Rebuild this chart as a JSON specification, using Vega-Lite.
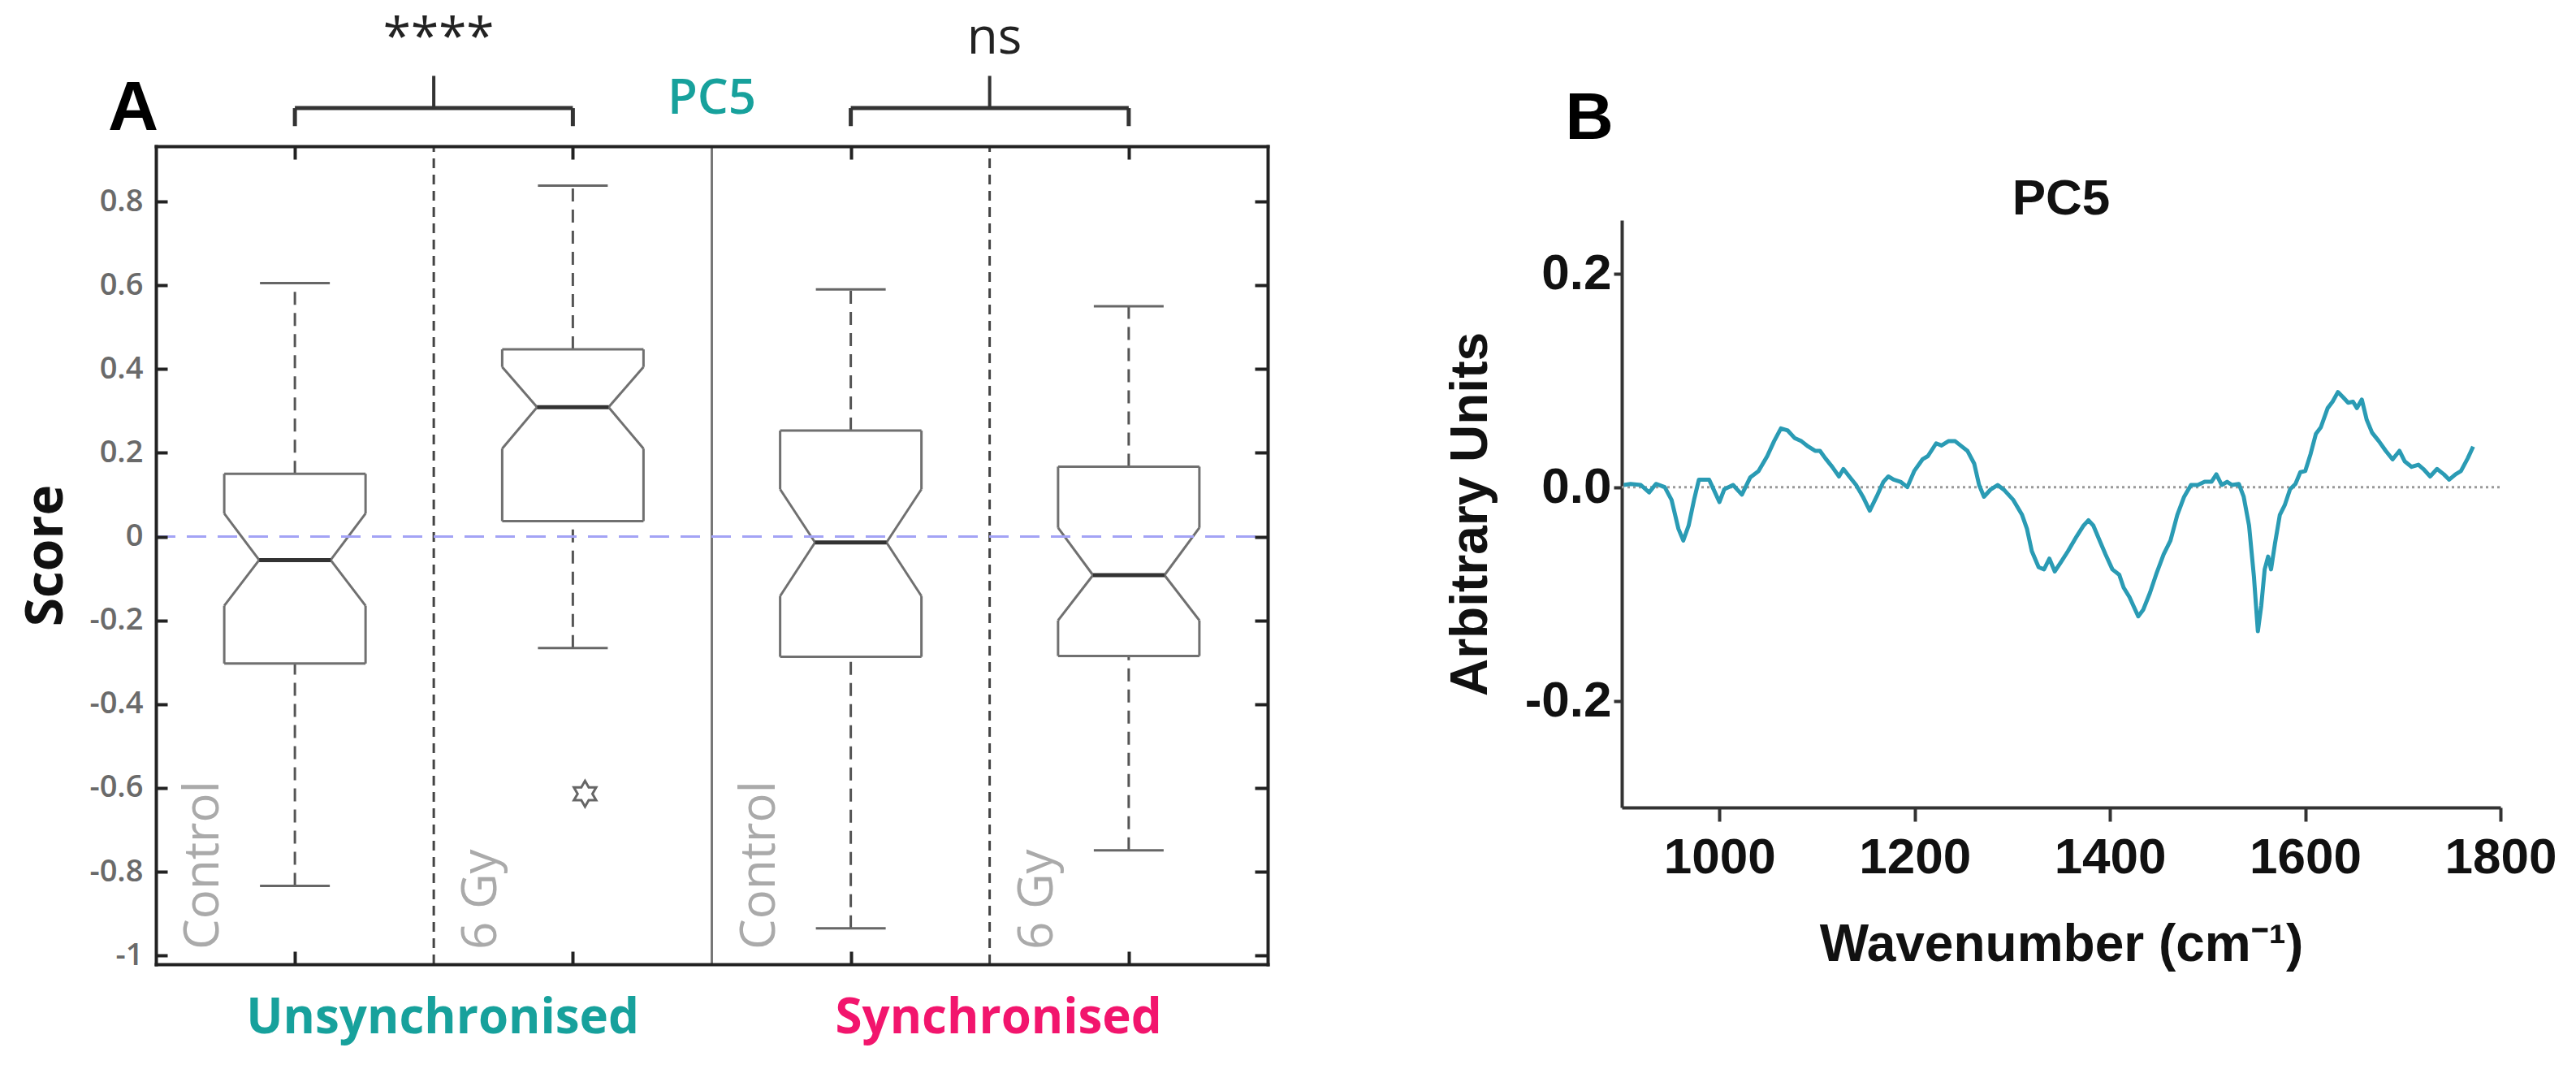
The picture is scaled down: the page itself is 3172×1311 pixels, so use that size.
{
  "$schema": "https://vega.github.io/schema/vega-lite/v6.json",
  "width": 3172,
  "height": 1311,
  "padding": 0,
  "autosize": {"type": "none"},
  "background": "white",
  "config": {"view": {"stroke": null}},
  "datasets": {
    "boxes": [
      {"cond": "Unsynchronised", "treat": "Control", "pos": 1, "wlo": -0.834, "q1": -0.303, "nlo": -0.165, "med": -0.056, "nhi": 0.055, "q3": 0.15, "whi": 0.605},
      {"cond": "Unsynchronised", "treat": "6 Gy", "pos": 2, "wlo": -0.266, "q1": 0.037, "nlo": 0.21, "med": 0.309, "nhi": 0.405, "q3": 0.447, "whi": 0.838},
      {"cond": "Synchronised", "treat": "Control", "pos": 3, "wlo": -0.935, "q1": -0.287, "nlo": -0.142, "med": -0.014, "nhi": 0.113, "q3": 0.253, "whi": 0.59},
      {"cond": "Synchronised", "treat": "6 Gy", "pos": 4, "wlo": -0.749, "q1": -0.285, "nlo": -0.2, "med": -0.092, "nhi": 0.021, "q3": 0.167, "whi": 0.55}
    ],
    "outliers": [{"pos": 2, "score": -0.614}],
    "groups": [
      {"cond": "Unsynchronised", "sig": "****", "from": 1, "to": 2},
      {"cond": "Synchronised", "sig": "ns", "from": 3, "to": 4}
    ],
    "spectrum": [
      {"wn": 902, "v": 0.002}, {"wn": 909, "v": 0.003}, {"wn": 919.5, "v": 0.002}, {"wn": 928, "v": -0.005},
      {"wn": 935, "v": 0.003}, {"wn": 944, "v": 0}, {"wn": 951, "v": -0.012}, {"wn": 958, "v": -0.039},
      {"wn": 963, "v": -0.05}, {"wn": 968.5, "v": -0.036}, {"wn": 974, "v": -0.012}, {"wn": 979, "v": 0.007},
      {"wn": 989.5, "v": 0.007}, {"wn": 993, "v": 0}, {"wn": 1000, "v": -0.014}, {"wn": 1005, "v": -0.002},
      {"wn": 1014, "v": 0.002}, {"wn": 1023, "v": -0.007}, {"wn": 1031.5, "v": 0.009}, {"wn": 1040, "v": 0.015},
      {"wn": 1049, "v": 0.029}, {"wn": 1056, "v": 0.043}, {"wn": 1063, "v": 0.055}, {"wn": 1070, "v": 0.053},
      {"wn": 1077, "v": 0.046}, {"wn": 1084, "v": 0.043}, {"wn": 1091, "v": 0.038}, {"wn": 1098, "v": 0.034},
      {"wn": 1103, "v": 0.034}, {"wn": 1108.5, "v": 0.027}, {"wn": 1115.5, "v": 0.019}, {"wn": 1122.5, "v": 0.01},
      {"wn": 1127, "v": 0.017}, {"wn": 1133, "v": 0.01}, {"wn": 1140, "v": 0.002}, {"wn": 1147, "v": -0.009},
      {"wn": 1154, "v": -0.022}, {"wn": 1161, "v": -0.009}, {"wn": 1168, "v": 0.005}, {"wn": 1173, "v": 0.01},
      {"wn": 1178.5, "v": 0.007}, {"wn": 1185.5, "v": 0.005}, {"wn": 1192.5, "v": 0}, {"wn": 1199.5, "v": 0.015},
      {"wn": 1208, "v": 0.026}, {"wn": 1213.5, "v": 0.029}, {"wn": 1222, "v": 0.041}, {"wn": 1227.5, "v": 0.039},
      {"wn": 1234.5, "v": 0.043}, {"wn": 1241.5, "v": 0.043}, {"wn": 1247, "v": 0.039}, {"wn": 1254, "v": 0.034},
      {"wn": 1261, "v": 0.022}, {"wn": 1266, "v": 0.002}, {"wn": 1271, "v": -0.009}, {"wn": 1278, "v": -0.002},
      {"wn": 1285, "v": 0.002}, {"wn": 1292, "v": -0.003}, {"wn": 1301, "v": -0.012}, {"wn": 1310, "v": -0.026},
      {"wn": 1315, "v": -0.039}, {"wn": 1320, "v": -0.06}, {"wn": 1327, "v": -0.075}, {"wn": 1332.5, "v": -0.077},
      {"wn": 1338, "v": -0.067}, {"wn": 1343.5, "v": -0.079}, {"wn": 1350, "v": -0.07}, {"wn": 1357, "v": -0.06},
      {"wn": 1366, "v": -0.046}, {"wn": 1373, "v": -0.036}, {"wn": 1378, "v": -0.031}, {"wn": 1383, "v": -0.036},
      {"wn": 1388.5, "v": -0.048}, {"wn": 1395.5, "v": -0.063}, {"wn": 1402.5, "v": -0.077}, {"wn": 1409.5, "v": -0.082},
      {"wn": 1414, "v": -0.094}, {"wn": 1420, "v": -0.103}, {"wn": 1425, "v": -0.113}, {"wn": 1429, "v": -0.121},
      {"wn": 1434, "v": -0.115}, {"wn": 1441, "v": -0.099}, {"wn": 1448, "v": -0.08}, {"wn": 1455, "v": -0.063},
      {"wn": 1462, "v": -0.05}, {"wn": 1469, "v": -0.026}, {"wn": 1476, "v": -0.009}, {"wn": 1483, "v": 0.002},
      {"wn": 1490, "v": 0.002}, {"wn": 1497, "v": 0.005}, {"wn": 1504, "v": 0.005}, {"wn": 1509, "v": 0.012},
      {"wn": 1514.5, "v": 0.002}, {"wn": 1520, "v": 0.005}, {"wn": 1525, "v": 0.002}, {"wn": 1532, "v": 0.003},
      {"wn": 1537, "v": -0.009}, {"wn": 1542.5, "v": -0.036}, {"wn": 1547.5, "v": -0.084}, {"wn": 1551.5, "v": -0.135},
      {"wn": 1555, "v": -0.111}, {"wn": 1558.5, "v": -0.077}, {"wn": 1562, "v": -0.065}, {"wn": 1565, "v": -0.077},
      {"wn": 1569, "v": -0.053}, {"wn": 1574, "v": -0.026}, {"wn": 1579, "v": -0.017}, {"wn": 1584.5, "v": -0.002},
      {"wn": 1590, "v": 0.003}, {"wn": 1595, "v": 0.014}, {"wn": 1600, "v": 0.015}, {"wn": 1605.5, "v": 0.031},
      {"wn": 1611, "v": 0.05}, {"wn": 1616, "v": 0.056}, {"wn": 1623, "v": 0.074}, {"wn": 1628, "v": 0.08},
      {"wn": 1633.5, "v": 0.089}, {"wn": 1639, "v": 0.084}, {"wn": 1644, "v": 0.079}, {"wn": 1649, "v": 0.08},
      {"wn": 1653, "v": 0.074}, {"wn": 1658, "v": 0.082}, {"wn": 1663, "v": 0.063}, {"wn": 1668.5, "v": 0.051},
      {"wn": 1675.5, "v": 0.043}, {"wn": 1682.5, "v": 0.034}, {"wn": 1689.5, "v": 0.026}, {"wn": 1696.5, "v": 0.034},
      {"wn": 1702, "v": 0.024}, {"wn": 1709, "v": 0.019}, {"wn": 1716, "v": 0.021}, {"wn": 1721, "v": 0.017},
      {"wn": 1728, "v": 0.01}, {"wn": 1735, "v": 0.017}, {"wn": 1742, "v": 0.012}, {"wn": 1747.5, "v": 0.007},
      {"wn": 1754, "v": 0.012}, {"wn": 1759.5, "v": 0.015}, {"wn": 1766.5, "v": 0.027}, {"wn": 1772, "v": 0.038}
    ]
  },
  "layer": [
    {
      "resolve": {"axis": {"x": "independent", "y": "independent"}},
      "layer": [
        {
          "data": {"name": "groups"},
          "mark": {"type": "rule", "color": "#444", "strokeWidth": 3, "strokeDash": [12, 8], "xOffset": 171},
          "encoding": {
            "x": {"field": "from", "type": "quantitative", "scale": {"domain": [0.5, 4.5], "range": [192, 1561], "nice": false, "zero": false}, "axis": null},
            "y": {"datum": -1.021, "type": "quantitative", "scale": {"domain": [-1.021, 0.932], "range": [1187, 180], "nice": false, "zero": false}, "axis": null},
            "y2": {"datum": 0.932}
          }
        },
        {
          "data": {"values": [{}]},
          "mark": {"type": "rule", "color": "#777", "strokeWidth": 3},
          "encoding": {
            "x": {"datum": 2.5, "type": "quantitative", "scale": {"domain": [0.5, 4.5], "range": [192, 1561], "nice": false, "zero": false}, "axis": null},
            "y": {"datum": -1.021, "type": "quantitative", "scale": {"domain": [-1.021, 0.932], "range": [1187, 180], "nice": false, "zero": false}, "axis": null},
            "y2": {"datum": 0.932}
          }
        },
        {
          "data": {"name": "boxes"},
          "mark": {"type": "rule", "color": "#555", "strokeWidth": 3, "strokeDash": [16, 10]},
          "encoding": {
            "x": {"field": "pos", "type": "quantitative", "scale": {"domain": [0.5, 4.5], "range": [192, 1561], "nice": false, "zero": false},
              "axis": {"orient": "bottom", "offset": -124, "values": [1, 2, 3, 4], "labels": false, "grid": false, "title": null, "tickSize": -16, "tickWidth": 4, "tickColor": "#222", "domainColor": "#222", "domainWidth": 4, "domainCap": "square", "zindex": 1}},
            "y": {"field": "q3", "type": "quantitative", "scale": {"domain": [-1.021, 0.932], "range": [1187, 180], "nice": false, "zero": false},
              "axis": {"orient": "left", "offset": -192, "values": [-1, -0.8, -0.6, -0.4, -0.2, 0, 0.2, 0.4, 0.6, 0.8], "grid": false, "tickSize": -14, "tickWidth": 4, "tickColor": "#222", "domainColor": "#222", "domainWidth": 4, "domainCap": "square", "zindex": 1,
                "labelExpr": "replace(format(datum.value, '~g'), '\u2212', '-')", "labelFont": "Open Sans", "labelFontSize": 38, "labelFontWeight": 600, "labelColor": "#6a6a6a", "labelPadding": 30, "labelFlush": false, "labelOverlap": false,
                "title": "Score", "titleFont": "Open Sans", "titleFontSize": 64, "titleFontWeight": "bold", "titleColor": "#111", "titlePadding": 20}},
            "y2": {"field": "whi"}
          }
        },
        {
          "data": {"name": "boxes"},
          "mark": {"type": "rule", "color": "#555", "strokeWidth": 3, "strokeDash": [16, 10]},
          "encoding": {
            "x": {"field": "pos", "type": "quantitative", "scale": {"domain": [0.5, 4.5], "range": [192, 1561], "nice": false, "zero": false}, "axis": null},
            "y": {"field": "wlo", "type": "quantitative", "scale": {"domain": [-1.021, 0.932], "range": [1187, 180], "nice": false, "zero": false}, "axis": null},
            "y2": {"field": "q1"}
          }
        },
        {
          "data": {"name": "boxes"},
          "transform": [{"fold": ["wlo", "whi"], "as": ["stat", "val"]}],
          "mark": {"type": "rule", "color": "#666", "strokeWidth": 3, "xOffset": -43, "x2Offset": 43},
          "encoding": {
            "x": {"field": "pos", "type": "quantitative", "scale": {"domain": [0.5, 4.5], "range": [192, 1561], "nice": false, "zero": false}, "axis": null},
            "x2": {"field": "pos"},
            "y": {"field": "val", "type": "quantitative", "scale": {"domain": [-1.021, 0.932], "range": [1187, 180], "nice": false, "zero": false}, "axis": null}
          }
        },
        {
          "data": {"name": "boxes"},
          "transform": [{"fold": ["q1", "q3"], "as": ["stat", "val"]}],
          "mark": {"type": "rule", "color": "#707070", "strokeWidth": 3, "xOffset": -87, "x2Offset": 87},
          "encoding": {
            "x": {"field": "pos", "type": "quantitative", "scale": {"domain": [0.5, 4.5], "range": [192, 1561], "nice": false, "zero": false}, "axis": null},
            "x2": {"field": "pos"},
            "y": {"field": "val", "type": "quantitative", "scale": {"domain": [-1.021, 0.932], "range": [1187, 180], "nice": false, "zero": false}, "axis": null}
          }
        },
        {
          "data": {"name": "boxes"},
          "mark": {"type": "rule", "color": "#707070", "strokeWidth": 3, "xOffset": -87},
          "encoding": {
            "x": {"field": "pos", "type": "quantitative", "scale": {"domain": [0.5, 4.5], "range": [192, 1561], "nice": false, "zero": false}, "axis": null},
            "y": {"field": "nhi", "type": "quantitative", "scale": {"domain": [-1.021, 0.932], "range": [1187, 180], "nice": false, "zero": false}, "axis": null},
            "y2": {"field": "q3"}
          }
        },
        {
          "data": {"name": "boxes"},
          "mark": {"type": "rule", "color": "#707070", "strokeWidth": 3, "xOffset": 87},
          "encoding": {
            "x": {"field": "pos", "type": "quantitative", "scale": {"domain": [0.5, 4.5], "range": [192, 1561], "nice": false, "zero": false}, "axis": null},
            "y": {"field": "nhi", "type": "quantitative", "scale": {"domain": [-1.021, 0.932], "range": [1187, 180], "nice": false, "zero": false}, "axis": null},
            "y2": {"field": "q3"}
          }
        },
        {
          "data": {"name": "boxes"},
          "mark": {"type": "rule", "color": "#707070", "strokeWidth": 3, "xOffset": -87},
          "encoding": {
            "x": {"field": "pos", "type": "quantitative", "scale": {"domain": [0.5, 4.5], "range": [192, 1561], "nice": false, "zero": false}, "axis": null},
            "y": {"field": "q1", "type": "quantitative", "scale": {"domain": [-1.021, 0.932], "range": [1187, 180], "nice": false, "zero": false}, "axis": null},
            "y2": {"field": "nlo"}
          }
        },
        {
          "data": {"name": "boxes"},
          "mark": {"type": "rule", "color": "#707070", "strokeWidth": 3, "xOffset": 87},
          "encoding": {
            "x": {"field": "pos", "type": "quantitative", "scale": {"domain": [0.5, 4.5], "range": [192, 1561], "nice": false, "zero": false}, "axis": null},
            "y": {"field": "q1", "type": "quantitative", "scale": {"domain": [-1.021, 0.932], "range": [1187, 180], "nice": false, "zero": false}, "axis": null},
            "y2": {"field": "nlo"}
          }
        },
        {
          "data": {"name": "boxes"},
          "transform": [{"fold": ["nlo", "nhi"], "as": ["stat", "val"]}],
          "mark": {"type": "rule", "color": "#707070", "strokeWidth": 3, "xOffset": -87, "x2Offset": -44},
          "encoding": {
            "x": {"field": "pos", "type": "quantitative", "scale": {"domain": [0.5, 4.5], "range": [192, 1561], "nice": false, "zero": false}, "axis": null},
            "x2": {"field": "pos"},
            "y": {"field": "val", "type": "quantitative", "scale": {"domain": [-1.021, 0.932], "range": [1187, 180], "nice": false, "zero": false}, "axis": null},
            "y2": {"field": "med"}
          }
        },
        {
          "data": {"name": "boxes"},
          "transform": [{"fold": ["nlo", "nhi"], "as": ["stat", "val"]}],
          "mark": {"type": "rule", "color": "#707070", "strokeWidth": 3, "xOffset": 87, "x2Offset": 44},
          "encoding": {
            "x": {"field": "pos", "type": "quantitative", "scale": {"domain": [0.5, 4.5], "range": [192, 1561], "nice": false, "zero": false}, "axis": null},
            "x2": {"field": "pos"},
            "y": {"field": "val", "type": "quantitative", "scale": {"domain": [-1.021, 0.932], "range": [1187, 180], "nice": false, "zero": false}, "axis": null},
            "y2": {"field": "med"}
          }
        },
        {
          "data": {"name": "boxes"},
          "mark": {"type": "rule", "color": "#333", "strokeWidth": 5, "xOffset": -44, "x2Offset": 44},
          "encoding": {
            "x": {"field": "pos", "type": "quantitative", "scale": {"domain": [0.5, 4.5], "range": [192, 1561], "nice": false, "zero": false},
              "axis": {"orient": "top", "offset": -180, "values": [1, 2, 3, 4], "labels": false, "grid": false, "title": null, "tickSize": -16, "tickWidth": 4, "tickColor": "#222", "domainColor": "#222", "domainWidth": 4, "domainCap": "square", "zindex": 1}},
            "x2": {"field": "pos"},
            "y": {"field": "med", "type": "quantitative", "scale": {"domain": [-1.021, 0.932], "range": [1187, 180], "nice": false, "zero": false},
              "axis": {"orient": "right", "offset": -1611, "values": [-1, -0.8, -0.6, -0.4, -0.2, 0, 0.2, 0.4, 0.6, 0.8], "labels": false, "grid": false, "title": null, "tickSize": -16, "tickWidth": 4, "tickColor": "#222", "domainColor": "#222", "domainWidth": 4, "domainCap": "square", "zindex": 1}}
          }
        },
        {
          "data": {"values": [{}]},
          "mark": {"type": "rule", "color": "#a3a3f5", "strokeWidth": 3, "strokeDash": [24, 14]},
          "encoding": {
            "x": {"datum": 0.5, "type": "quantitative", "scale": {"domain": [0.5, 4.5], "range": [192, 1561], "nice": false, "zero": false}, "axis": null},
            "x2": {"datum": 4.5},
            "y": {"datum": 0, "type": "quantitative", "scale": {"domain": [-1.021, 0.932], "range": [1187, 180], "nice": false, "zero": false}, "axis": null}
          }
        },
        {
          "data": {"name": "outliers"},
          "mark": {"type": "point", "shape": "M0,-1L0.289,-0.5L0.866,-0.5L0.577,0L0.866,0.5L0.289,0.5L0,1L-0.289,0.5L-0.866,0.5L-0.577,0L-0.866,-0.5L-0.289,-0.5Z", "size": 1000, "filled": false, "stroke": "#666", "strokeWidth": 3, "opacity": 1, "xOffset": 15},
          "encoding": {
            "x": {"field": "pos", "type": "quantitative", "scale": {"domain": [0.5, 4.5], "range": [192, 1561], "nice": false, "zero": false}, "axis": null},
            "y": {"field": "score", "type": "quantitative", "scale": {"domain": [-1.021, 0.932], "range": [1187, 180], "nice": false, "zero": false}, "axis": null}
          }
        },
        {
          "data": {"name": "boxes"},
          "mark": {"type": "text", "angle": 270, "align": "left", "baseline": "middle", "font": "Open Sans", "fontSize": 60, "color": "#aaaaaa", "xOffset": -112, "yOffset": -18},
          "encoding": {
            "x": {"field": "pos", "type": "quantitative", "scale": {"domain": [0.5, 4.5], "range": [192, 1561], "nice": false, "zero": false}, "axis": null},
            "y": {"datum": -1.021, "type": "quantitative", "scale": {"domain": [-1.021, 0.932], "range": [1187, 180], "nice": false, "zero": false}, "axis": null},
            "text": {"field": "treat"}
          }
        },
        {
          "data": {"name": "groups"},
          "mark": {"type": "rule", "color": "#333", "strokeWidth": 5},
          "encoding": {
            "x": {"field": "from", "type": "quantitative", "scale": {"domain": [0.5, 4.5], "range": [192, 1561], "nice": false, "zero": false}, "axis": null},
            "x2": {"field": "to"},
            "y": {"datum": 1.023, "type": "quantitative", "scale": {"domain": [-1.021, 0.932], "range": [1187, 180], "nice": false, "zero": false}, "axis": null}
          }
        },
        {
          "data": {"name": "groups"},
          "transform": [{"fold": ["from", "to"], "as": ["end", "ex"]}],
          "mark": {"type": "rule", "color": "#333", "strokeWidth": 5},
          "encoding": {
            "x": {"field": "ex", "type": "quantitative", "scale": {"domain": [0.5, 4.5], "range": [192, 1561], "nice": false, "zero": false}, "axis": null},
            "y": {"datum": 0.98, "type": "quantitative", "scale": {"domain": [-1.021, 0.932], "range": [1187, 180], "nice": false, "zero": false}, "axis": null},
            "y2": {"datum": 1.023}
          }
        },
        {
          "data": {"name": "groups"},
          "mark": {"type": "rule", "color": "#333", "strokeWidth": 4, "xOffset": 171},
          "encoding": {
            "x": {"field": "from", "type": "quantitative", "scale": {"domain": [0.5, 4.5], "range": [192, 1561], "nice": false, "zero": false}, "axis": null},
            "y": {"datum": 1.023, "type": "quantitative", "scale": {"domain": [-1.021, 0.932], "range": [1187, 180], "nice": false, "zero": false}, "axis": null},
            "y2": {"datum": 1.1}
          }
        },
        {
          "data": {"name": "groups"},
          "mark": {"type": "text", "align": "center", "baseline": "alphabetic", "font": "Open Sans", "fontSize": 62, "color": "#222", "xOffset": 177, "yOffset": -114},
          "encoding": {
            "x": {"field": "from", "type": "quantitative", "scale": {"domain": [0.5, 4.5], "range": [192, 1561], "nice": false, "zero": false}, "axis": null},
            "y": {"datum": 0.932, "type": "quantitative", "scale": {"domain": [-1.021, 0.932], "range": [1187, 180], "nice": false, "zero": false}, "axis": null},
            "text": {"field": "sig"}
          }
        },
        {
          "data": {"name": "groups"},
          "mark": {"type": "text", "align": "center", "baseline": "alphabetic", "font": "Open Sans", "fontSize": 60, "fontWeight": "bold", "xOffset": 182, "yOffset": 85},
          "encoding": {
            "x": {"field": "from", "type": "quantitative", "scale": {"domain": [0.5, 4.5], "range": [192, 1561], "nice": false, "zero": false}, "axis": null},
            "y": {"datum": -1.021, "type": "quantitative", "scale": {"domain": [-1.021, 0.932], "range": [1187, 180], "nice": false, "zero": false}, "axis": null},
            "text": {"field": "cond"},
            "color": {"field": "cond", "type": "nominal", "scale": {"domain": ["Unsynchronised", "Synchronised"], "range": ["#17a19c", "#f2156d"]}, "legend": null}
          }
        },
        {
          "data": {"values": [{}]},
          "mark": {"type": "text", "text": "PC5", "align": "center", "baseline": "alphabetic", "font": "Open Sans", "fontSize": 60, "fontWeight": 600, "color": "#17a19c", "yOffset": -40},
          "encoding": {
            "x": {"datum": 2.5, "type": "quantitative", "scale": {"domain": [0.5, 4.5], "range": [192, 1561], "nice": false, "zero": false}, "axis": null},
            "y": {"datum": 0.932, "type": "quantitative", "scale": {"domain": [-1.021, 0.932], "range": [1187, 180], "nice": false, "zero": false}, "axis": null}
          }
        },
        {
          "data": {"values": [{}]},
          "mark": {"type": "text", "text": "A", "align": "center", "baseline": "alphabetic", "font": "Liberation Sans", "fontSize": 86, "fontWeight": "bold", "color": "#000", "xOffset": -28, "yOffset": -20},
          "encoding": {
            "x": {"datum": 0.5, "type": "quantitative", "scale": {"domain": [0.5, 4.5], "range": [192, 1561], "nice": false, "zero": false}, "axis": null},
            "y": {"datum": 0.932, "type": "quantitative", "scale": {"domain": [-1.021, 0.932], "range": [1187, 180], "nice": false, "zero": false}, "axis": null}
          }
        }
      ]
    },
    {
      "resolve": {"axis": {"x": "independent", "y": "independent"}},
      "layer": [
        {
          "data": {"values": [{}]},
          "mark": {"type": "rule", "color": "#9a9a9a", "strokeWidth": 3, "strokeDash": [3, 4]},
          "encoding": {
            "x": {"datum": 900, "type": "quantitative", "scale": {"domain": [900, 1800], "range": [1997, 3079], "nice": false, "zero": false}, "axis": null},
            "x2": {"datum": 1800},
            "y": {"datum": 0, "type": "quantitative", "scale": {"domain": [-0.3, 0.25], "range": [994, 271], "nice": false, "zero": false}, "axis": null}
          }
        },
        {
          "data": {"name": "spectrum"},
          "mark": {"type": "line", "color": "#2a9bb4", "strokeWidth": 5, "strokeJoin": "round"},
          "encoding": {
            "x": {"field": "wn", "type": "quantitative", "scale": {"domain": [900, 1800], "range": [1997, 3079], "nice": false, "zero": false},
              "axis": {"orient": "bottom", "offset": -317, "values": [1000, 1200, 1400, 1600, 1800], "format": "d", "grid": false, "tickSize": 17, "tickWidth": 4, "tickColor": "#333", "domainColor": "#333", "domainWidth": 4,
                "labelFont": "Liberation Sans", "labelFontSize": 62, "labelFontWeight": "bold", "labelColor": "#111", "labelPadding": 14, "labelFlush": false, "labelOverlap": false,
                "title": "Wavenumber (cm⁻¹)", "titleFont": "Liberation Sans", "titleFontSize": 64, "titleFontWeight": "bold", "titleColor": "#111", "titlePadding": 45}},
            "y": {"field": "v", "type": "quantitative", "scale": {"domain": [-0.3, 0.25], "range": [994, 271], "nice": false, "zero": false},
              "axis": {"orient": "left", "offset": -1997, "values": [-0.2, 0, 0.2], "grid": false, "tickSize": 10, "tickWidth": 4, "tickColor": "#333", "domainColor": "#333", "domainWidth": 4,
                "labelExpr": "replace(format(datum.value, '.1f'), '\u2212', '-')", "labelFont": "Liberation Sans", "labelFontSize": 62, "labelFontWeight": "bold", "labelColor": "#111", "labelPadding": 3, "labelFlush": false, "labelOverlap": false,
                "title": "Arbitrary Units", "titleFont": "Liberation Sans", "titleFontSize": 64, "titleFontWeight": "bold", "titleColor": "#111", "titlePadding": 34}}
          }
        },
        {
          "data": {"values": [{}]},
          "mark": {"type": "text", "text": "PC5", "align": "center", "baseline": "alphabetic", "font": "Liberation Sans", "fontSize": 62, "fontWeight": "bold", "color": "#111", "yOffset": -7},
          "encoding": {
            "x": {"datum": 1350, "type": "quantitative", "scale": {"domain": [900, 1800], "range": [1997, 3079], "nice": false, "zero": false}, "axis": null},
            "y": {"datum": 0.25, "type": "quantitative", "scale": {"domain": [-0.3, 0.25], "range": [994, 271], "nice": false, "zero": false}, "axis": null}
          }
        },
        {
          "data": {"values": [{}]},
          "mark": {"type": "text", "text": "B", "align": "center", "baseline": "alphabetic", "font": "Liberation Sans", "fontSize": 82, "fontWeight": "bold", "color": "#000", "xOffset": -40, "yOffset": -100},
          "encoding": {
            "x": {"datum": 900, "type": "quantitative", "scale": {"domain": [900, 1800], "range": [1997, 3079], "nice": false, "zero": false}, "axis": null},
            "y": {"datum": 0.25, "type": "quantitative", "scale": {"domain": [-0.3, 0.25], "range": [994, 271], "nice": false, "zero": false}, "axis": null}
          }
        }
      ]
    }
  ],
  "resolve": {"scale": {"x": "independent", "y": "independent", "color": "independent"}}
}
